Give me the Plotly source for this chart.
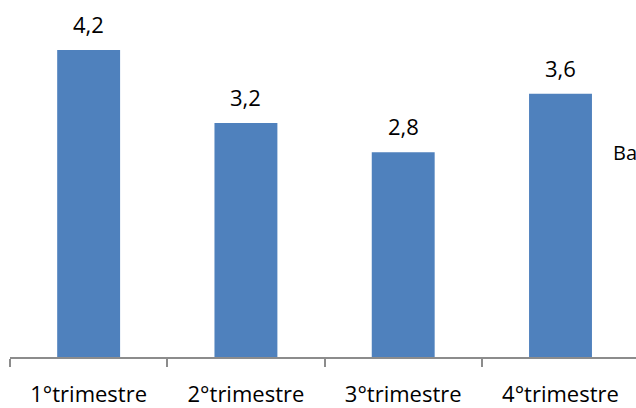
import plotly.graph_objects as go

categories = ["1°trimestre", "2°trimestre", "3°trimestre", "4°trimestre"]
values = [4.2, 3.2, 2.8, 3.6]

BAR_COLOR = "#4F81BD"
FONT = "Open Sans"

fig = go.Figure(
    go.Bar(
        x=categories,
        y=values,
        marker=dict(color=BAR_COLOR, line=dict(width=0)),
        showlegend=False,
    )
)

# value labels above each bar, comma as decimal separator
for cat, v in zip(categories, values):
    fig.add_annotation(
        x=cat, y=v, xref="x", yref="y",
        text=f"{v:.1f}".replace(".", ","),
        showarrow=False, yanchor="bottom", yshift=9,
        font=dict(family=FONT, size=22, color="#000000"),
    )

fig.update_layout(
    width=636,
    height=408,
    margin=dict(l=10, r=0, t=28, b=51),
    paper_bgcolor="white",
    plot_bgcolor="white",
    bargap=0.6,
    font=dict(family=FONT, size=22, color="#000000"),
    xaxis=dict(
        type="category",
        range=[-0.5, 3.48],
        showline=True,
        linecolor="#8C8C8C",
        linewidth=1.5,
        ticks="outside",
        tickson="boundaries",
        ticklen=8,
        tickcolor="#8C8C8C",
        tickwidth=1.5,
        ticklabelstandoff=17,
        showgrid=False,
        zeroline=False,
        tickfont=dict(family=FONT, size=22, color="#000000"),
    ),
    yaxis=dict(
        range=[0, 4.5],
        visible=False,
        showgrid=False,
        zeroline=False,
    ),
)

# series name at the right edge of the chart, placed in pixel terms
plot_w = 636 - 10 - 0
plot_h = 408 - 28 - 51
fig.add_annotation(
    x=(611 - 10) / plot_w, y=(408 - 51 - 152) / plot_h,
    xref="paper", yref="paper",
    text="Ba", showarrow=False, xanchor="left", yanchor="middle",
    font=dict(family=FONT, size=20, color="#000000"),
)

fig.write_html("out.html")
